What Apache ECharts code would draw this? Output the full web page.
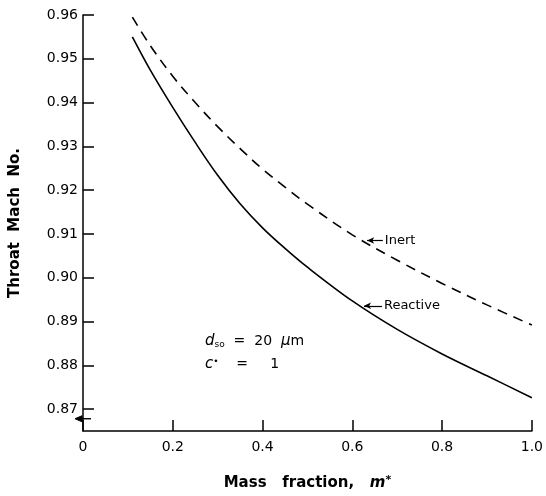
<!DOCTYPE html>
<html>
<head>
<meta charset="utf-8">
<script src="https://cdn.jsdelivr.net/npm/echarts@6/dist/echarts.min.js"></script>
<style>html,body{margin:0;padding:0;background:#fff;}#c{width:546px;height:496px;}</style>
</head>
<body>
<div id="c"></div>
<script>
var massFraction = [0.11, 0.15, 0.2, 0.25, 0.3, 0.35, 0.4, 0.45, 0.5, 0.6, 0.7, 0.8, 0.9, 1.0];
var reactive = [0.955, 0.9474, 0.9389, 0.9309, 0.9234, 0.9169, 0.9114, 0.9067, 0.9024, 0.8947, 0.8882, 0.8826, 0.8776, 0.8726];
var inert = [0.9595, 0.953, 0.946, 0.940, 0.9345, 0.9295, 0.9248, 0.9207, 0.9168, 0.9098, 0.904, 0.8987, 0.8938, 0.8892];
var yTicks = [0.87, 0.88, 0.89, 0.90, 0.91, 0.92, 0.93, 0.94, 0.95, 0.96];
var xTicks = [0, 0.2, 0.4, 0.6, 0.8, 1.0];
var inertLeader = [[0.633, 0.9085], [0.668, 0.9085]];
var reactiveLeader = [[0.626, 0.8936], [0.666, 0.8936]];
var breakValue = 0.8678;

function pairs(xs, ys) { return xs.map(function (x, i) { return [x, ys[i]]; }); }

var FONT = 'DejaVu Sans';
var chart = echarts.init(document.getElementById('c'), null, {renderer: 'canvas'});
var option = {
  animation: false,
  backgroundColor: '#fff',
  textStyle: {fontFamily: FONT, color: '#000'},
  grid: {left: 82, right: 12, top: 15, bottom: 55},
  xAxis: {
    type: 'value', min: 0, max: 1, interval: 0.2,
    name: 'Mass   fraction,   {i|m}{s|*}',
    nameLocation: 'middle', nameGap: 44,
    nameTextStyle: {fontFamily: FONT, fontSize: 15, color: '#000', fontWeight: 'bold',
      rich: {i: {fontStyle: 'italic', fontSize: 15, fontWeight: 'bold', fontFamily: FONT}, s: {fontSize: 11, fontWeight: 'bold', verticalAlign: 'top', padding: [0, 0, 6, 0], fontFamily: FONT}}},
    axisLine: {lineStyle: {color: '#000', width: 1.5}},
    axisTick: {inside: true, length: 11, lineStyle: {color: '#000', width: 1.5}, customValues: xTicks},
    axisLabel: {color: '#000', fontSize: 14, margin: 9, fontFamily: FONT, customValues: xTicks,
      formatter: function (v) { return v === 0 ? '0' : v.toFixed(1); }},
    splitLine: {show: false}
  },
  yAxis: {
    type: 'value', min: 0.865, max: 0.96,
    name: 'Throat  Mach  No.', nameLocation: 'middle', nameGap: 60,
    nameTextStyle: {fontFamily: FONT, fontSize: 15, color: '#000', fontWeight: 'bold'},
    axisLine: {lineStyle: {color: '#000', width: 1.5}},
    axisTick: {inside: true, length: 11, lineStyle: {color: '#000', width: 1.5}, customValues: yTicks},
    axisLabel: {color: '#000', fontSize: 14, margin: 5, fontFamily: FONT, customValues: yTicks,
      formatter: function (v) { return v.toFixed(2); }},
    splitLine: {show: false}
  },
  series: [
    {
      name: 'Reactive', type: 'line', smooth: 0.35, showSymbol: false,
      data: pairs(massFraction, reactive),
      lineStyle: {color: '#000', width: 1.6},
      markLine: {
        silent: true, symbol: ['arrow', 'none'], symbolSize: [5, 7],
        lineStyle: {color: '#000', width: 1.2, type: 'solid'},
        label: {show: true, position: 'end', formatter: 'Reactive', color: '#000', fontSize: 13, fontFamily: FONT, distance: 2},
        data: [[{coord: reactiveLeader[0]}, {coord: reactiveLeader[1]}]]
      }
    },
    {
      name: 'Inert', type: 'line', smooth: 0.35, showSymbol: false,
      data: pairs(massFraction, inert),
      lineStyle: {color: '#000', width: 1.6, type: [10, 7]},
      markLine: {
        silent: true, symbol: ['arrow', 'none'], symbolSize: [5, 7],
        lineStyle: {color: '#000', width: 1.2, type: 'solid'},
        label: {show: true, position: 'end', formatter: 'Inert', color: '#000', fontSize: 13, fontFamily: FONT, distance: 2},
        data: [[{coord: inertLeader[0]}, {coord: inertLeader[1]}]]
      }
    }
  ],
  graphic: [
    {
      id: 'anno1', type: 'text', left: 205, top: 334,
      style: {
        text: '{i|d}{sub|so}  =  20  {i|\u03bc}m',
        fill: '#000', fontFamily: FONT, fontSize: 14,
        rich: {
          i: {fontStyle: 'italic', fontSize: 15, fontFamily: FONT},
          sub: {fontSize: 9, verticalAlign: 'bottom', padding: [6, 0, 0, 0], fontFamily: FONT}
        }
      }
    },
    {
      id: 'anno2', type: 'text', left: 205, top: 357,
      style: {
        text: '{i|c}{sup|\u2022}    =     1',
        fill: '#000', fontFamily: FONT, fontSize: 14,
        rich: {
          i: {fontStyle: 'italic', fontSize: 15, fontFamily: FONT},
          sup: {fontSize: 9, verticalAlign: 'top', padding: [0, 0, 6, 0], fontFamily: FONT}
        }
      }
    }
  ]
};
chart.setOption(option);

// axis-break mark on the y axis, placed through the axis scale
var bp = chart.convertToPixel({gridIndex: 0}, [0, breakValue]);
chart.setOption({
  graphic: [
    {
      id: 'breakLine', type: 'polyline', silent: true,
      shape: {points: [[bp[0] + 8, bp[1]], [bp[0] - 4, bp[1]]]},
      style: {stroke: '#000', lineWidth: 1.4, fill: null}
    },
    {
      id: 'breakHead', type: 'polygon', silent: true,
      shape: {points: [[bp[0] - 8, bp[1]], [bp[0] - 1, bp[1] - 3], [bp[0] - 1, bp[1] + 3]]},
      style: {fill: '#000', stroke: '#000', lineWidth: 1}
    }
  ]
});
</script>
</body>
</html>
